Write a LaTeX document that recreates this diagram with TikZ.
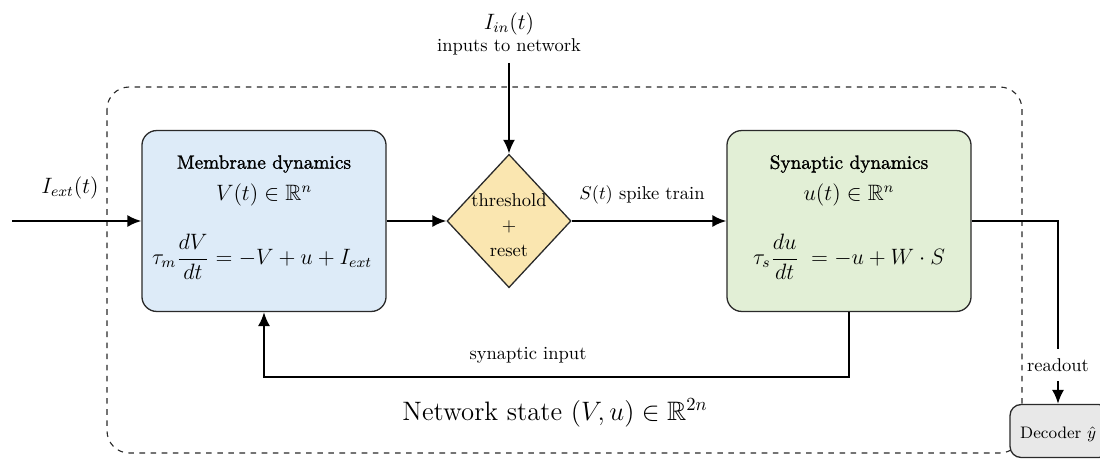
\documentclass[tikz,border=0pt]{standalone}
\usepackage{amsmath,amssymb}
\usepackage{fontspec}
\newfontfamily\semib[FakeBold=1.3]{lmroman10-regular.otf}
\usetikzlibrary{shapes.geometric,arrows.meta}
\definecolor{memblue}{HTML}{DDEBF8}
\definecolor{syngreen}{HTML}{E2EFD6}
\definecolor{thryellow}{HTML}{FAE6B0}
\definecolor{decgray}{HTML}{E8E8E8}
\definecolor{edge}{HTML}{2A2A2A}
\begin{document}
\begin{tikzpicture}[x=0.54pt,y=-0.54pt,
  blockbox/.style={draw=edge,line width=0.7pt,rounded corners=8pt,minimum width=131.8pt,minimum height=97.7pt,inner sep=0pt},
  dia/.style={diamond,draw=edge,line width=0.7pt,fill=thryellow,minimum width=67pt,minimum height=72pt,inner sep=0pt},
  conn/.style={line width=1.2pt,-{Latex[length=7.5pt,width=6.5pt]}},
  plain/.style={line width=1.2pt},
  lbl/.style={inner sep=1pt,align=center},
  title/.style={inner sep=1pt,align=center,font=\fontsize{10.4}{12.5}\selectfont\semib}]
\useasboundingbox (0,0) rectangle (1100,459);
\clip (0,0) rectangle (1100,459);
% outer dashed network region
\draw[dashed,draw=edge,line width=0.6pt,rounded corners=12pt] (107,87) rectangle (1022,453);
% blocks
\node[blockbox,fill=memblue] (mem) at (264,221) {};
\node[dia] (thr) at (509,221) {};
\node[blockbox,fill=syngreen] (syn) at (849,221) {};
\node[draw=edge,line width=0.7pt,rounded corners=6pt,fill=decgray,minimum width=54pt,minimum height=28.6pt] (dec) at (1060,431) {};
% block texts
\node[title] (memt) at (264,164) {Membrane dynamics};
\node[lbl] (memv) at (264,195) {\large $V(t)\in\mathbb{R}^n$};
\node[lbl] (meme) at (262,257) {\large $\tau_m\dfrac{dV}{dt} = -V + u + I_{ext}$};
\node[lbl] (thrt) at (509,225) {threshold\\[1.5pt]$+$\\[1.5pt]reset};
\node[title] (synt) at (849,164) {Synaptic dynamics};
\node[lbl] (synv) at (849,195) {\large $u(t)\in\mathbb{R}^n$};
\node[lbl] (syne) at (849,257) {\large $\tau_s\dfrac{du}{dt}\;= -u + W\cdot S$};
\node[lbl,anchor=west,font=\small] (dect) at (1018,434) {Decoder $\hat{y}$};
% external labels
\node[lbl] (iext) at (70,188) {\large $I_{ext}(t)$};
\coordinate (iexts) at (12,221);
\node[lbl] (iin) at (509,24) {\large $I_{in}(t)$};
\node[lbl,inner sep=4pt] (inp) at (509,47) {inputs to network};
\node[lbl] (spk) at (642,195) {$S(t)$ spike train};
\node[lbl] (synin) at (528,355) {synaptic input};
\node[lbl,inner sep=5pt] (ro) at (1058,365) {readout};
\node[lbl] (state) at (555,413) {\Large Network state $(V,u)\in\mathbb{R}^{2n}$};
% connectors
\draw[conn] (iexts) -- (mem.west);
\draw[conn] (inp.south) -- (thr.north);
\draw[conn] (mem.east) -- (thr.west);
\draw[conn] (thr.east) -- (syn.west);
\draw[conn] (syn.south) -- ++(0,65) -| (mem.south);
\draw[plain] (syn.east) -| (ro.north);
\draw[conn] (ro.south) -- (ro.south |- dec.north);
\end{tikzpicture}
\end{document}
